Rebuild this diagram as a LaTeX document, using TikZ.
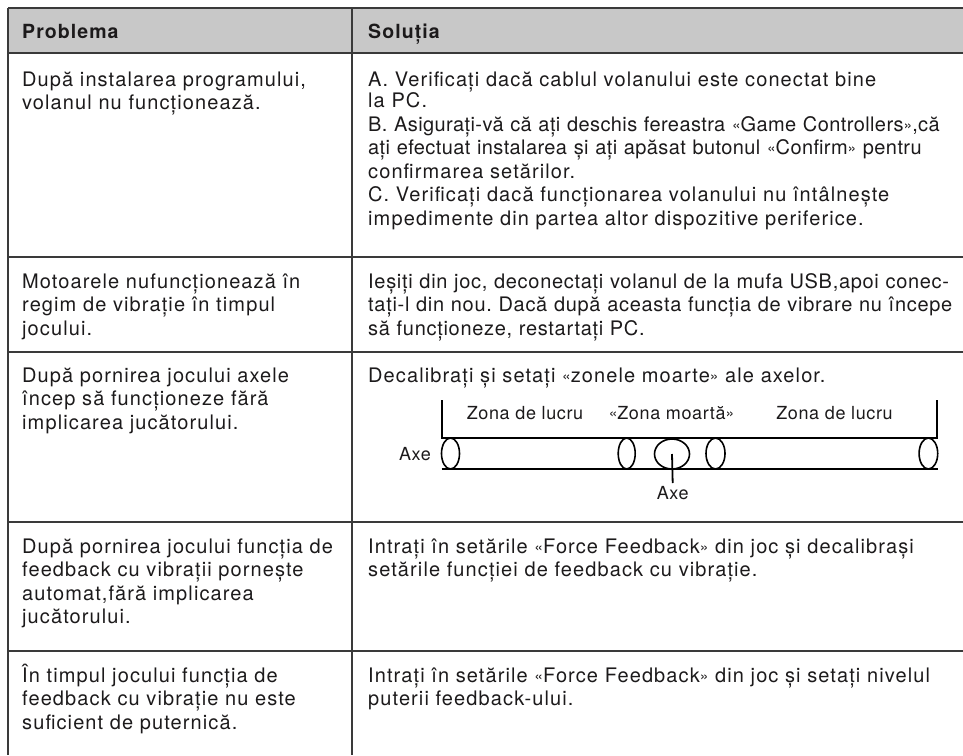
\documentclass[tikz,border=0pt]{standalone}
\usepackage{fontspec}
\setmainfont[LetterSpace=5.5]{TeX Gyre Heros}
\newfontfamily\midls[LetterSpace=3.5]{TeX Gyre Heros}
\newfontfamily\tightls[LetterSpace=2]{TeX Gyre Heros}
\usetikzlibrary{shapes.geometric}
\definecolor{hdr}{HTML}{C8C8C8}
\definecolor{gridc}{HTML}{3A3A3A}
\definecolor{ink}{HTML}{1C1A1B}
\newcommand{\lgm}{\raisebox{0.8pt}{\fontsize{15.5}{15.5}\selectfont «}}
\newcommand{\rgm}{\raisebox{0.8pt}{\fontsize{15.5}{15.5}\selectfont »}}
\begin{document}
\begin{tikzpicture}[x=1pt,y=-1pt,
  tline/.style={draw=gridc,line width=1.5pt},
  cell/.style={anchor=base west,inner sep=0pt,align=left,text width=#1,
    font=\fontsize{20}{23.5}\selectfont\frenchspacing,text=ink},
  midcell/.style={cell=#1,font=\fontsize{20}{23.5}\selectfont\frenchspacing\midls},
  hcell/.style={anchor=base west,inner sep=0pt,font=\fontsize{19.5}{23.5}\selectfont\bfseries,text=ink},
  dlab/.style={inner sep=0pt,font=\midls\fontsize{18}{21}\selectfont,text=ink},
  ell/.style={draw=black,ellipse,inner sep=0pt,line width=1.6pt},
  dline/.style={draw=black,line width=1.8pt}]
\useasboundingbox (0,0) rectangle (963,755);
% table
\fill[hdr] (8,8) rectangle (963,53);
\draw[tline,line width=2pt] (8,8) -- (963,8);
\draw[tline,line width=2pt] (8,53) -- (963,53);
\foreach \yy in {257,352,522,651} \draw[tline] (8,\yy) -- (963,\yy);
\draw[tline] (8,8) -- (8,755);
\draw[tline] (352,8) -- (352,755);
% header
\node[hcell] (h1) at (22,38) {Problema};
\node[hcell] (h2) at (368,38) {Soluția};
% row 1
\node[cell=330pt] (p1) at (22,86) {După instalarea programului,\\volanul nu funcționează.};
\node[cell=700pt] (s1) at (368,86) {A. Verificați dacă cablul volanului este conectat bine\\[-2pt]la PC.\\{\tightls B. Asigurați-vă că ați deschis fereastra \lgm Game Controllers\rgm,că}\\{\tightls ați efectuat instalarea și ați apăsat butonul \lgm Confirm\rgm\ pentru}\\confirmarea setărilor.\\C. Verificați dacă funcționarea volanului nu întâlnește\\impedimente din partea altor dispozitive periferice.};
% row 2
\node[cell=330pt] (p2) at (22,288) {Motoarele nufuncționează în\\regim de vibrație în timpul\\jocului.};
\node[midcell=700pt] (s2) at (368,288) {Ieșiți din joc, deconectați volanul de la mufa USB,apoi conec-\\tați-l din nou. Dacă după aceasta funcția de vibrare nu începe\\să funcționeze, restartați PC.};
% row 3
\node[cell=330pt] (p3) at (22,382) {După pornirea jocului axele\\încep să funcționeze fără\\implicarea jucătorului.};
\node[cell=700pt] (s3) at (368,382) {Decalibrați și setați \lgm zonele moarte\rgm\ ale axelor.};
% row 4
\node[cell=330pt] (p4) at (22,553) {După pornirea jocului funcția de\\feedback cu vibrații pornește\\automat,fără implicarea\\jucătorului.};
\node[cell=700pt] (s4) at (368,553) {Intrați în setările \lgm Force Feedback\rgm\ din joc și decalibrași\\setările funcției de feedback cu vibrație.};
% row 5
\node[cell=330pt] (p5) at (22,682) {În timpul jocului funcția de\\feedback cu vibrație nu este\\suficient de puternică.};
\node[cell=700pt] (s5) at (368,682) {Intrați în setările \lgm Force Feedback\rgm\ din joc și setați nivelul\\puterii feedback-ului.};
% diagram
\draw[dline] (441.7,400) -- (441.7,437.7) -- (937.3,437.7) -- (937.3,400);
\draw[dline] (441.7,469) -- (937.7,469);
\node[ell,minimum width=18pt,minimum height=31pt] (e1) at (450.5,453.5) {};
\node[ell,minimum width=17pt,minimum height=31pt] (e2) at (626.7,453.5) {};
\node[ell,minimum width=35pt,minimum height=30pt] (e3) at (672,454) {};
\node[ell,minimum width=19pt,minimum height=31pt] (e4) at (715.5,453.5) {};
\node[ell,minimum width=18.6pt,minimum height=31pt] (e5) at (928.4,453.5) {};
\node[dlab,anchor=base] (z1) at (525,419.5) {Zona de lucru};
\node[dlab,anchor=base] (z2) at (671.5,419.5) {\lgm Zona moartă\rgm};
\node[dlab,anchor=base] (z3) at (834.5,419.5) {Zona de lucru};
\node[dlab,anchor=base east] (axl) at (431,460.5) {Axe};
\node[dlab,anchor=north] (axb) at (672.7,486) {Axe};
\draw[dline] (e3.center) -- ([yshift=3pt]axb.north);
\end{tikzpicture}
\end{document}
